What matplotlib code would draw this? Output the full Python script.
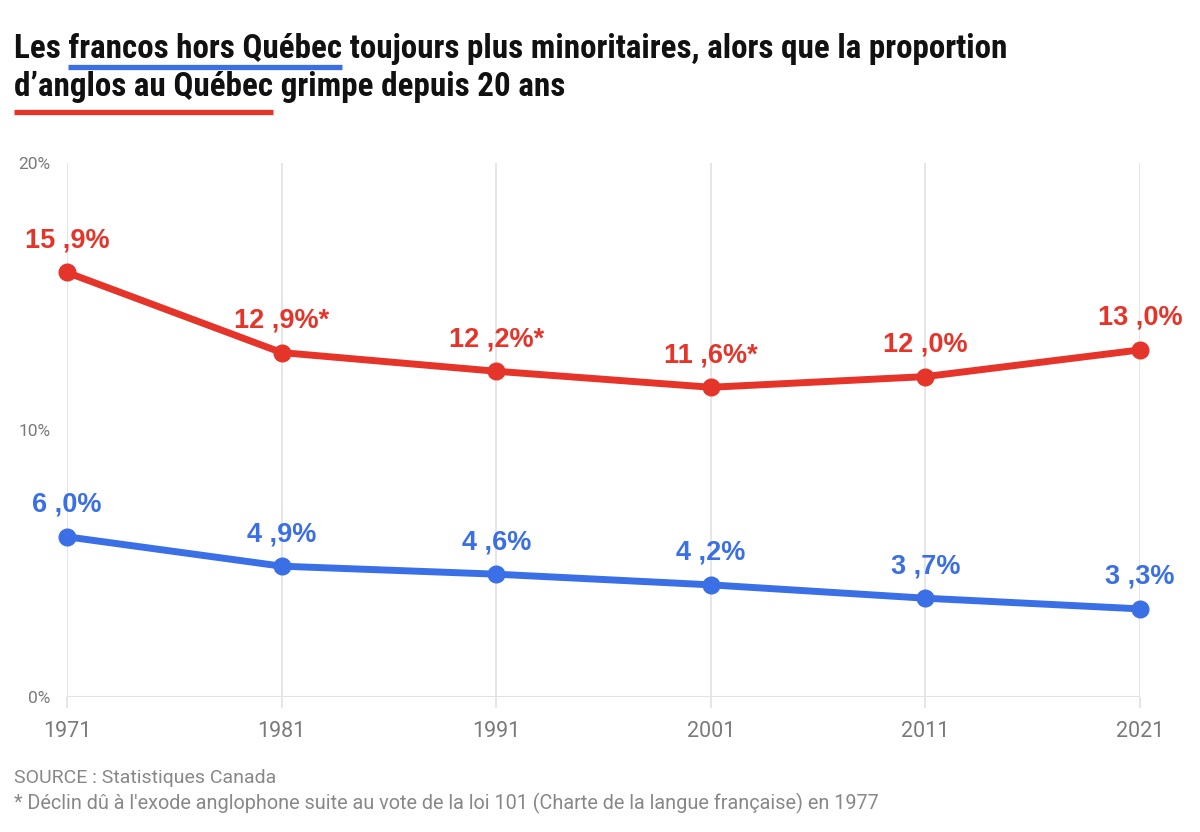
import matplotlib.pyplot as plt
from matplotlib import font_manager

years = [1971, 1981, 1991, 2001, 2011, 2021]
anglos_qc = [15.9, 12.9, 12.2, 11.6, 12.0, 13.0]
francos_hq = [6.0, 4.9, 4.6, 4.2, 3.7, 3.3]
anglos_labels = ["15 ,9%", "12 ,9%*", "12 ,2%*", "11 ,6%*", "12 ,0%", "13 ,0%"]
francos_labels = ["6 ,0%", "4 ,9%", "4 ,6%", "4 ,2%", "3 ,7%", "3 ,3%"]
y_ticks = [0, 10, 20]
y_tick_labels = ["0%", "10%", "20%"]

RED = "#e5352a"
BLUE = "#3b6fe6"
GRID = "#e2e2e2"

# police étroite pour le titre si dispo, sinon Roboto
installed = {f.name for f in font_manager.fontManager.ttflist}
title_font = "Roboto"
for cand in ["Roboto Condensed", "Liberation Sans Narrow", "Open Sans Condensed", "Arial Narrow"]:
    if cand in installed:
        title_font = cand
        break

fig = plt.figure(figsize=(12, 8.32), dpi=100)
ax = fig.add_axes([67 / 1200, 1 - 697 / 832, (1140 - 67) / 1200, (697 - 163) / 832])

ax.set_xlim(1971, 2021)
ax.set_ylim(0, 20)
for s in ax.spines.values():
    s.set_visible(False)

ax.set_xticks(years)
ax.set_xticklabels([str(y) for y in years])
ax.set_yticks(y_ticks)
ax.set_yticklabels(y_tick_labels)
ax.grid(axis="x", color=GRID, lw=1.2)
ax.axhline(0, color=GRID, lw=1.5, zorder=1)
ax.tick_params(axis="x", length=8, color=GRID, width=1.2, pad=9,
               labelsize=15.5, labelcolor="#7a7a7a")
ax.tick_params(axis="y", length=0, pad=12, labelsize=12.5, labelcolor="#7a7a7a")
for lab in ax.get_xticklabels() + ax.get_yticklabels():
    lab.set_family("Roboto")

for vals, labels, col in [(anglos_qc, anglos_labels, RED), (francos_hq, francos_labels, BLUE)]:
    ax.plot(years, vals, color=col, lw=5, marker="o", ms=12, clip_on=False, zorder=3)
    for x, v, t in zip(years, vals, labels):
        ax.annotate(t, (x, v), xytext=(0, 18), textcoords="offset points",
                    ha="center", va="baseline", fontsize=19.5, fontweight="bold",
                    family="Liberation Sans", color=col)

# titre avec mots soulignés
line1 = "Les francos hors Québec toujours plus minoritaires, alors que la proportion"
line2 = "d\u2019anglos au Québec grimpe depuis 20 ans"
fig.canvas.draw()
r = fig.canvas.get_renderer()

# taille ajustée pour que la 1re ligne fasse ~1000 px
probe = fig.text(0, 0, line1, fontsize=24, fontweight="bold", family=title_font)
tsize = min(24, 24 * 998 / probe.get_window_extent(r).width)
probe.remove()
tkw = dict(fontsize=tsize, fontweight="bold", family=title_font, va="baseline", color="#111111")

t1 = fig.text(14 / 1200, 1 - 58 / 832, line1, **tkw)
t2 = fig.text(14 / 1200, 1 - 96 / 832, line2, **tkw)
fig.canvas.draw()


def underline(full, prefix, word, y_px, col):
    a = fig.text(0, 0, prefix, **tkw)
    b = fig.text(0, 0, word, **tkw)
    end = a.get_window_extent(r).width
    w = b.get_window_extent(r).width
    a.remove()
    b.remove()
    x0 = full.get_window_extent(r).x0
    fig.add_artist(plt.Line2D([(x0 + end - w) / 1200, (x0 + end) / 1200],
                              [1 - y_px / 832] * 2, color=col, lw=3.8,
                              solid_capstyle="butt", transform=fig.transFigure))


underline(t1, "Les francos hors Québec", "francos hors Québec", 67, BLUE)
underline(t2, "d\u2019anglos au Québec", "d\u2019anglos au Québec", 112, RED)

fig.text(14 / 1200, 1 - 783 / 832, "SOURCE : Statistiques Canada", fontsize=14,
         family="Roboto", color="#888888", va="baseline")
fig.text(14 / 1200, 1 - 809 / 832,
         "* Déclin dû à l'exode anglophone suite au vote de la loi 101 "
         "(Charte de la langue française) en 1977",
         fontsize=14.3, family="Roboto", color="#888888", va="baseline")

fig.savefig("out.png", dpi=100, facecolor="white")
